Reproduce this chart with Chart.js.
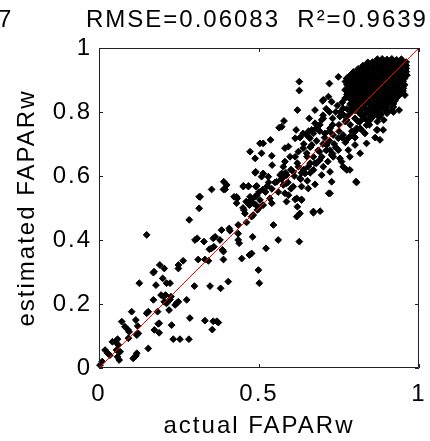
<!DOCTYPE html>
<html>
<head>
<meta charset="utf-8">
<script src="https://cdn.jsdelivr.net/npm/chart.js@4.4.0/dist/chart.umd.min.js"></script>
<style>
html, body { margin: 0; padding: 0; background: #fff; }
canvas { display: block; }
</style>
</head>
<body>
<canvas id="scatter" width="430" height="441"></canvas>
<script>
// labels
const panelTag = '7';
const statsTitle = 'RMSE=0.06083  R\u00b2=0.9639';
const xTitle = 'actual FAPARw';
const yTitle = 'estimated FAPARw';
const xTickValues = [0, 0.5, 1];
const yTickValues = [0, 0.2, 0.4, 0.6, 0.8, 1];

// 1:1 reference line
const oneToOne = [[0, 0], [1, 1]];

// points, [actual, estimated]
const lowPairs = [
  [0.003,0.009],[0.01,0.02],[0.019,0.056],[0.027,0.046],[0.034,0.04],[0.042,0.082],[0.052,0.082],
  [0.058,0.09],[0.06,0.072],[0.055,0.056],[0.066,0.051],[0.058,0.035],[0.063,0.025],[0.071,0.145],
  [0.081,0.129],[0.09,0.12],[0.094,0.113],[0.092,0.093],[0.102,0.176],[0.115,0.15],[0.121,0.131],
  [0.118,0.103],[0.123,0.108],[0.107,0.03],[0.115,0.038],[0.118,0.046],[0.126,0.265],[0.149,0.171],
  [0.154,0.176],[0.154,0.061],[0.17,0.298],[0.17,0.213],[0.173,0.119],[0.178,0.259],[0.183,0.176],
  [0.185,0.138],[0.19,0.322],[0.204,0.311],[0.188,0.11],[0.194,0.228],[0.201,0.224],[0.208,0.228],
  [0.199,0.28],[0.211,0.265],[0.222,0.265],[0.204,0.207],[0.211,0.202],[0.222,0.214],[0.225,0.223],
  [0.219,0.181],[0.227,0.134],[0.232,0.09],[0.238,0.197],[0.243,0.203],[0.248,0.207],[0.253,0.09],
  [0.248,0.322],[0.263,0.335],[0.274,0.213],[0.281,0.09],[0.284,0.156],[0.298,0.256],[0.31,0.339],
  [0.331,0.148],[0.347,0.256],[0.342,0.335],[0.357,0.146],[0.354,0.12],[0.368,0.146],[0.149,0.416],
  [0.248,0.311],[0.373,0.142],[0.188,0.14],[0.172,0.301]
];

const midPairs = [
  [0.282,0.463],[0.3,0.4],[0.307,0.405],[0.313,0.535],[0.313,0.499],[0.328,0.395],[0.331,0.339],
  [0.345,0.371],[0.352,0.558],[0.357,0.405],[0.359,0.379],[0.378,0.4],[0.38,0.249],[0.383,0.431],
  [0.386,0.369],[0.389,0.339],[0.39,0.582],[0.399,0.572],[0.394,0.558],[0.404,0.27],[0.407,0.436],
  [0.409,0.429],[0.422,0.535],[0.43,0.515],[0.432,0.53],[0.435,0.447],[0.435,0.4],[0.438,0.39],
  [0.446,0.342],[0.451,0.569],[0.456,0.483],[0.461,0.455],[0.467,0.569],[0.47,0.353],[0.477,0.358],
  [0.474,0.525],[0.477,0.473],[0.482,0.515],[0.488,0.535],[0.488,0.61],[0.493,0.569],[0.495,0.494],
  [0.498,0.306],[0.501,0.265],[0.503,0.525],[0.508,0.598],[0.512,0.558],[0.513,0.509],[0.522,0.374],
  [0.526,0.569],[0.529,0.598],[0.534,0.53],[0.54,0.515],[0.545,0.447],[0.555,0.582],[0.56,0.4],
  [0.566,0.603],[0.584,0.61],[0.592,0.54],[0.607,0.567],[0.618,0.53],[0.62,0.504],[0.618,0.473],
  [0.626,0.395],[0.633,0.61],[0.363,0.41],[0.352,0.374],[0.389,0.364],[0.435,0.42],[0.453,0.494],
  [0.47,0.509],[0.482,0.478],[0.48,0.41],[0.316,0.535],[0.43,0.535],[0.472,0.535],[0.493,0.54],
  [0.389,0.558],[0.46,0.52],[0.5,0.55],[0.52,0.55],[0.49,0.51],[0.5,0.5],[0.45,0.5],[0.67,0.485],
  [0.691,0.49],[0.613,0.527],[0.633,0.527],[0.576,0.572],[0.586,0.52],[0.628,0.483],[0.581,0.546],
  [0.571,0.608],[0.633,0.525],[0.67,0.489]
];

const upperPairs = [
  [0.62,0.806],[0.578,0.772],[0.571,0.754],[0.701,0.838],[0.696,0.775],[0.613,0.718],[0.628,0.72],
  [0.649,0.728],[0.659,0.718],[0.67,0.733],[0.678,0.749],[0.665,0.697],[0.581,0.687],[0.592,0.692],
  [0.597,0.66],[0.613,0.66],[0.623,0.676],[0.638,0.687],[0.649,0.671],[0.67,0.66],[0.689,0.676],
  [0.696,0.66],[0.711,0.697],[0.722,0.681],[0.727,0.666],[0.743,0.687],[0.753,0.655],[0.779,0.681],
  [0.8,0.697],[0.816,0.671],[0.863,0.72],[0.868,0.744],[0.706,0.733],[0.722,0.749],[0.732,0.728],
  [0.748,0.718],[0.763,0.728],[0.774,0.713],[0.784,0.723],[0.8,0.739],[0.816,0.749],[0.831,0.733],
  [0.836,0.759],[0.847,0.775],[0.576,0.629],[0.586,0.603],[0.607,0.613],[0.623,0.629],[0.628,0.593],
  [0.644,0.608],[0.654,0.629],[0.67,0.619],[0.68,0.64],[0.696,0.603],[0.701,0.629],[0.722,0.613],
  [0.727,0.582],[0.763,0.629],[0.774,0.619],[0.805,0.58],[0.675,0.574],[0.654,0.561],[0.722,0.546],
  [0.626,0.895],[0.626,0.867],[0.563,0.751],[0.513,0.702],[0.536,0.713],[0.508,0.671],[0.488,0.655],
  [0.472,0.676],[0.54,0.663],[0.49,0.613],[0.513,0.608],[0.541,0.634],[0.616,0.744],[0.638,0.733],
  [0.581,0.645],[0.72,0.889],[0.748,0.91],[0.699,0.835],[0.717,0.848],[0.727,0.832],[0.675,0.806],
  [0.701,0.78],[0.665,0.744],[0.657,0.78],[0.878,0.713],[0.888,0.744],[0.836,0.702],[0.805,0.749],
  [0.797,0.723],[0.803,0.582],[0.718,0.546],[0.784,0.619],[0.675,0.64],[0.732,0.66],[0.748,0.681],
  [0.758,0.645],[0.784,0.66],[0.633,0.567],[0.651,0.585],[0.586,0.577],[0.503,0.702],[0.451,0.567],
  [0.467,0.567],[0.49,0.567],
  [0.70,0.79],[0.71,0.81],[0.72,0.80],[0.73,0.78],[0.74,0.80],[0.745,0.82],[0.75,0.76],[0.755,0.80],
  [0.76,0.83],[0.765,0.79],[0.77,0.77],[0.775,0.81],[0.78,0.79],[0.785,0.76],[0.79,0.80],[0.80,0.78],
  [0.81,0.77],[0.82,0.79],[0.83,0.78],[0.84,0.80],[0.86,0.79],[0.88,0.79],[0.90,0.80],[0.92,0.80],
  [0.75,0.74],[0.76,0.72],[0.79,0.74],[0.72,0.74],[0.73,0.76],[0.69,0.76],[0.705,0.72],[0.735,0.70],
  [0.77,0.705],[0.80,0.72],[0.82,0.745],[0.845,0.76],[0.85,0.78],[0.87,0.77],[0.89,0.775],
  [0.64,0.70],[0.66,0.69],[0.68,0.71],[0.655,0.74],[0.675,0.765],[0.69,0.74],[0.70,0.70],[0.72,0.71],
  [0.74,0.69],[0.71,0.68],[0.685,0.68],[0.65,0.66],[0.66,0.64],[0.69,0.65],[0.715,0.645],[0.73,0.67],
  [0.62,0.64],[0.64,0.62],[0.66,0.61],[0.60,0.62],[0.61,0.60],[0.63,0.59],[0.59,0.58],[0.60,0.56],
  [0.58,0.60],[0.57,0.59],[0.55,0.58],[0.56,0.55],[0.54,0.56],[0.53,0.58]
];

// the dense block near the top right corner
const clusterPairs = [
  [0.87,0.965],[0.885,0.966],[0.90,0.964],[0.915,0.966],[0.93,0.963],[0.945,0.965],
  [0.84,0.955],[0.855,0.956],[0.87,0.954],[0.885,0.955],[0.90,0.956],[0.915,0.954],[0.93,0.955],[0.945,0.954],[0.96,0.956],
  [0.825,0.945],[0.84,0.944],[0.855,0.946],[0.87,0.945],[0.885,0.944],[0.90,0.946],[0.915,0.945],[0.93,0.944],[0.945,0.946],[0.96,0.945],
  [0.81,0.935],[0.825,0.936],[0.84,0.934],[0.855,0.935],[0.87,0.936],[0.885,0.934],[0.90,0.935],[0.915,0.936],[0.93,0.934],[0.945,0.935],[0.96,0.936],
  [0.795,0.925],[0.81,0.924],[0.825,0.926],[0.84,0.925],[0.855,0.924],[0.87,0.926],[0.885,0.925],[0.90,0.924],[0.915,0.926],[0.93,0.925],[0.945,0.924],[0.96,0.926],
  [0.785,0.915],[0.80,0.916],[0.815,0.914],[0.83,0.915],[0.845,0.916],[0.86,0.914],[0.875,0.915],[0.89,0.916],[0.905,0.914],[0.92,0.915],[0.935,0.916],[0.95,0.914],[0.962,0.915],
  [0.775,0.905],[0.79,0.904],[0.805,0.906],[0.82,0.905],[0.835,0.904],[0.85,0.906],[0.865,0.905],[0.88,0.904],[0.895,0.906],[0.91,0.905],[0.925,0.904],[0.94,0.906],[0.955,0.905],
  [0.77,0.895],[0.785,0.896],[0.80,0.894],[0.815,0.895],[0.83,0.896],[0.845,0.894],[0.86,0.895],[0.875,0.896],[0.89,0.894],[0.905,0.895],[0.92,0.896],[0.935,0.894],[0.95,0.895],
  [0.775,0.885],[0.79,0.884],[0.805,0.886],[0.82,0.885],[0.835,0.884],[0.85,0.886],[0.865,0.885],[0.88,0.884],[0.895,0.886],[0.91,0.885],[0.925,0.884],[0.94,0.886],[0.955,0.885],
  [0.78,0.875],[0.795,0.876],[0.81,0.874],[0.825,0.875],[0.84,0.876],[0.855,0.874],[0.87,0.875],[0.885,0.876],[0.90,0.874],[0.915,0.875],[0.93,0.876],[0.945,0.874],
  [0.785,0.865],[0.80,0.864],[0.815,0.866],[0.83,0.865],[0.845,0.864],[0.86,0.866],[0.875,0.865],[0.89,0.864],[0.905,0.866],[0.92,0.865],[0.935,0.864],[0.95,0.866],
  [0.775,0.855],[0.79,0.856],[0.805,0.854],[0.82,0.855],[0.835,0.856],[0.85,0.854],[0.865,0.855],[0.88,0.856],[0.895,0.854],[0.91,0.855],[0.925,0.856],[0.94,0.854],
  [0.78,0.845],[0.795,0.844],[0.81,0.846],[0.825,0.845],[0.84,0.844],[0.855,0.846],[0.87,0.845],[0.885,0.844],[0.90,0.846],[0.915,0.845],[0.93,0.844],
  [0.79,0.835],[0.805,0.836],[0.82,0.834],[0.835,0.835],[0.85,0.836],[0.865,0.834],[0.88,0.835],[0.895,0.836],[0.91,0.834],[0.925,0.835],
  [0.785,0.825],[0.80,0.824],[0.815,0.826],[0.83,0.825],[0.845,0.824],[0.86,0.826],[0.875,0.825],[0.89,0.824],[0.905,0.826],[0.92,0.825],
  [0.79,0.815],[0.81,0.816],[0.83,0.814],[0.85,0.815],[0.87,0.816],[0.885,0.814],[0.90,0.815],[0.92,0.816],
  [0.80,0.805],[0.82,0.806],[0.84,0.804],[0.86,0.805],[0.875,0.806],[0.895,0.804],[0.915,0.806],
  [0.815,0.795],[0.835,0.796],[0.855,0.794],[0.88,0.795],[0.90,0.796],
  [0.825,0.785],[0.85,0.786],[0.875,0.784],
  [0.774,0.905],[0.784,0.889],[0.793,0.91],[0.769,0.869],[0.769,0.843],[0.784,0.806],[0.763,0.811],
  [0.753,0.786],[0.774,0.775],[0.816,0.77],[0.87,0.744],[0.938,0.806],[0.956,0.853],[0.951,0.874],
  [0.868,0.801],[0.852,0.786],[0.836,0.775]
];

const allPairs = [...lowPairs, ...midPairs, ...upperPairs, ...clusterPairs];
const toXY = pairs => pairs.map(p => ({x: p[0], y: p[1]}));

const FONT = '"Liberation Sans", Arial, sans-serif';
const SPACING = '2px';

// wide letter spacing like the original figure
const spacingPlugin = {
    id: 'spacing',
    beforeUpdate(chart) { chart.ctx.letterSpacing = SPACING; },
    beforeDraw(chart) { chart.ctx.letterSpacing = SPACING; }
};

// box round the plot, inward ticks, title line
const framePlugin = {
    id: 'frame',
    afterDraw(chart) {
        const ctx = chart.ctx;
        const a = chart.chartArea;
        const sx = chart.scales.x, sy = chart.scales.y;
        const tl = 4;
        ctx.save();
        ctx.strokeStyle = '#222';
        ctx.lineWidth = 1;
        ctx.beginPath();
        ctx.rect(a.left + 0.5, a.top + 0.5, a.right - a.left - 1, a.bottom - a.top - 1);
        xTickValues.forEach(v => {
            const px = Math.round(sx.getPixelForValue(v)) + 0.5;
            ctx.moveTo(px, a.bottom); ctx.lineTo(px, a.bottom - tl);
            ctx.moveTo(px, a.top); ctx.lineTo(px, a.top + tl);
        });
        yTickValues.forEach(v => {
            const py = Math.round(sy.getPixelForValue(v)) + 0.5;
            ctx.moveTo(a.left, py); ctx.lineTo(a.left + tl, py);
            ctx.moveTo(a.right, py); ctx.lineTo(a.right - tl, py);
        });
        ctx.stroke();

        // title spans x 86..428 in the original
        ctx.fillStyle = '#000';
        ctx.font = '24px ' + FONT;
        ctx.letterSpacing = '0px';
        const plain = ctx.measureText(statsTitle).width;
        const gap = (342 - plain) / statsTitle.length;
        ctx.letterSpacing = gap.toFixed(2) + 'px';
        ctx.textBaseline = 'alphabetic';
        ctx.textAlign = 'left';
        ctx.fillText(statsTitle, 86, 27);
        ctx.letterSpacing = SPACING;
        ctx.fillText(panelTag, -2, 27);
        ctx.restore();
    }
};

const tickText = v => String(+v.toFixed(2));

new Chart(document.getElementById('scatter'), {
    type: 'scatter',
    data: {
        datasets: [
            {
                label: '1:1',
                data: toXY(oneToOne),
                showLine: true,
                borderColor: '#ff0000',
                borderWidth: 1,
                pointRadius: 0,
                order: 0
            },
            {
                label: 'FAPARw',
                data: toXY(allPairs),
                pointStyle: 'rectRot',
                pointRadius: 3.4,
                pointBorderWidth: 1,
                pointBackgroundColor: '#000',
                pointBorderColor: '#000',
                clip: 6,
                order: 1
            }
        ]
    },
    options: {
        responsive: false,
        animation: false,
        devicePixelRatio: 1,
        layout: { padding: { left: 0, right: 11, top: 48, bottom: 0 } },
        plugins: {
            legend: { display: false },
            tooltip: { enabled: false },
            title: { display: false }
        },
        scales: {
            x: {
                min: 0, max: 1,
                afterFit(scale) {
                    scale.height = 73;
                    scale.paddingLeft = 0;
                    scale.paddingRight = 0;
                },
                afterBuildTicks(scale) { scale.ticks = xTickValues.map(v => ({value: v})); },
                grid: { display: false, drawTicks: false },
                border: { display: false },
                ticks: {
                    color: '#000', padding: 12, maxRotation: 0,
                    font: { family: FONT, size: 24 },
                    callback: v => tickText(v)
                },
                title: {
                    display: true, text: xTitle, color: '#000',
                    font: { family: FONT, size: 24 },
                    padding: { top: 0, bottom: 0 }
                }
            },
            y: {
                min: 0, max: 1,
                afterFit(scale) { scale.width = 99; },
                afterBuildTicks(scale) { scale.ticks = yTickValues.map(v => ({value: v})); },
                grid: { display: false, drawTicks: false },
                border: { display: false },
                ticks: {
                    color: '#000', padding: 7,
                    font: { family: FONT, size: 24 },
                    callback: v => tickText(v)
                },
                title: {
                    display: true, text: yTitle, color: '#000',
                    font: { family: FONT, size: 24 },
                    padding: { top: 13, bottom: 0 }
                }
            }
        }
    },
    plugins: [spacingPlugin, framePlugin]
});
</script>
</body>
</html>
